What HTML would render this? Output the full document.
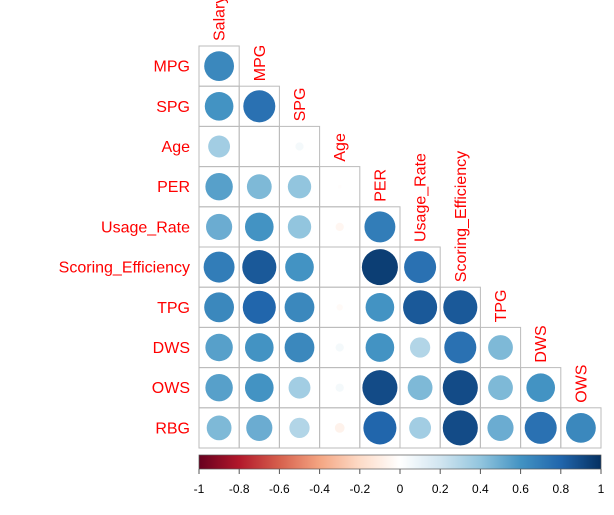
<!DOCTYPE html>
<html><head><meta charset="utf-8"><style>
body{margin:0;background:#fff;}
svg{display:block;font-family:"Liberation Sans",sans-serif;}
</style></head><body>
<svg id="chart" width="614" height="515">
<defs><linearGradient id="rdbu" x1="0" x2="1" y1="0" y2="0">
<stop offset="0" stop-color="#67001F"/><stop offset="0.1" stop-color="#B2182B"/><stop offset="0.2" stop-color="#D6604D"/><stop offset="0.3" stop-color="#F4A582"/><stop offset="0.4" stop-color="#FDDBC7"/><stop offset="0.5" stop-color="#FFFFFF"/><stop offset="0.6" stop-color="#D1E5F0"/><stop offset="0.7" stop-color="#92C5DE"/><stop offset="0.8" stop-color="#4393C3"/><stop offset="0.9" stop-color="#2166AC"/><stop offset="1" stop-color="#053061"/>
</linearGradient></defs>
</svg>
<script>
const colLabels=["Salary","MPG","SPG","Age","PER","Usage_Rate","Scoring_Efficiency","TPG","DWS","OWS"];
const rowLabels=["MPG","SPG","Age","PER","Usage_Rate","Scoring_Efficiency","TPG","DWS","OWS","RBG"];
const corrValues=[
[0.65],
[0.6,0.75],
[0.35,0.0,0.05],
[0.55,0.45,0.4,-0.01],
[0.5,0.6,0.4,-0.05,0.7],
[0.7,0.85,0.6,0.0,0.95,0.75],
[0.65,0.8,0.65,-0.03,0.6,0.85,0.85],
[0.55,0.6,0.65,0.05,0.6,0.3,0.75,0.45],
[0.55,0.6,0.35,0.05,0.9,0.45,0.9,0.45,0.6],
[0.45,0.5,0.3,-0.07,0.8,0.35,0.9,0.5,0.75,0.65]];
const tickValues=[-1,-0.8,-0.6,-0.4,-0.2,0,0.2,0.4,0.6,0.8,1];
const tickLabels=["-1","-0.8","-0.6","-0.4","-0.2","0","0.2","0.4","0.6","0.8","1"];

const NS="http://www.w3.org/2000/svg";
const svg=document.getElementById('chart');
const X0=199,Y0=46,C=40.2;
const cx=j=>X0+C*j, cy=i=>Y0+C*i;
const stops=["#67001F","#B2182B","#D6604D","#F4A582","#FDDBC7","#FFFFFF","#D1E5F0","#92C5DE","#4393C3","#2166AC","#053061"];
function hex(h){return [1,3,5].map(k=>parseInt(h.substr(k,2),16));}
function color(v){const t=(v+1)/2*10;const k=Math.min(9,Math.floor(t));const f=t-k;const a=hex(stops[k]),b=hex(stops[k+1]);return 'rgb('+a.map((x,i)=>Math.round(x+(b[i]-x)*f)).join(',')+')';}
function el(tag,attrs,txt){const e=document.createElementNS(NS,tag);for(const k in attrs)e.setAttribute(k,attrs[k]);if(txt!==undefined)e.textContent=txt;svg.appendChild(e);return e;}
const cbX=x=>199+(x+1)/2*402;

corrValues.forEach((row,i)=>{
  row.forEach((v,j)=>{
    const r=el('rect',{x:cx(j),y:cy(i),width:C,height:C,fill:'none',stroke:'#bbbbbb','stroke-width':1});
    
    
    const c=el('circle',{cx:cx(j)+C/2,cy:cy(i)+C/2,r:Math.sqrt(Math.abs(v))*C*0.46,fill:color(v)});
    
    
  });
  const t=el('text',{x:190,y:cy(i)+C/2+5.5,'text-anchor':'end','font-size':16,fill:'#ff0000'},rowLabels[i]);
  
  
});
colLabels.forEach((l,j)=>{
  const x=cx(j)+C/2+5.5, y=cy(j)-5;
  const t=el('text',{x:x,y:y,transform:'rotate(-90 '+x+' '+y+')','font-size':16,fill:'#ff0000'},l);
  
  
});
const bar=el('rect',{x:199,y:455,width:402,height:14,fill:'url(#rdbu)',stroke:'#555','stroke-width':0.7});


tickValues.forEach((v,k)=>{
  const l=el('line',{x1:cbX(v),x2:cbX(v),y1:469,y2:474,stroke:'#555'});
  
  
  const t=el('text',{x:cbX(v),y:493,'text-anchor':'middle','font-size':12,fill:'#000'},tickLabels[k]);
  
  
});
</script>
</body></html>
